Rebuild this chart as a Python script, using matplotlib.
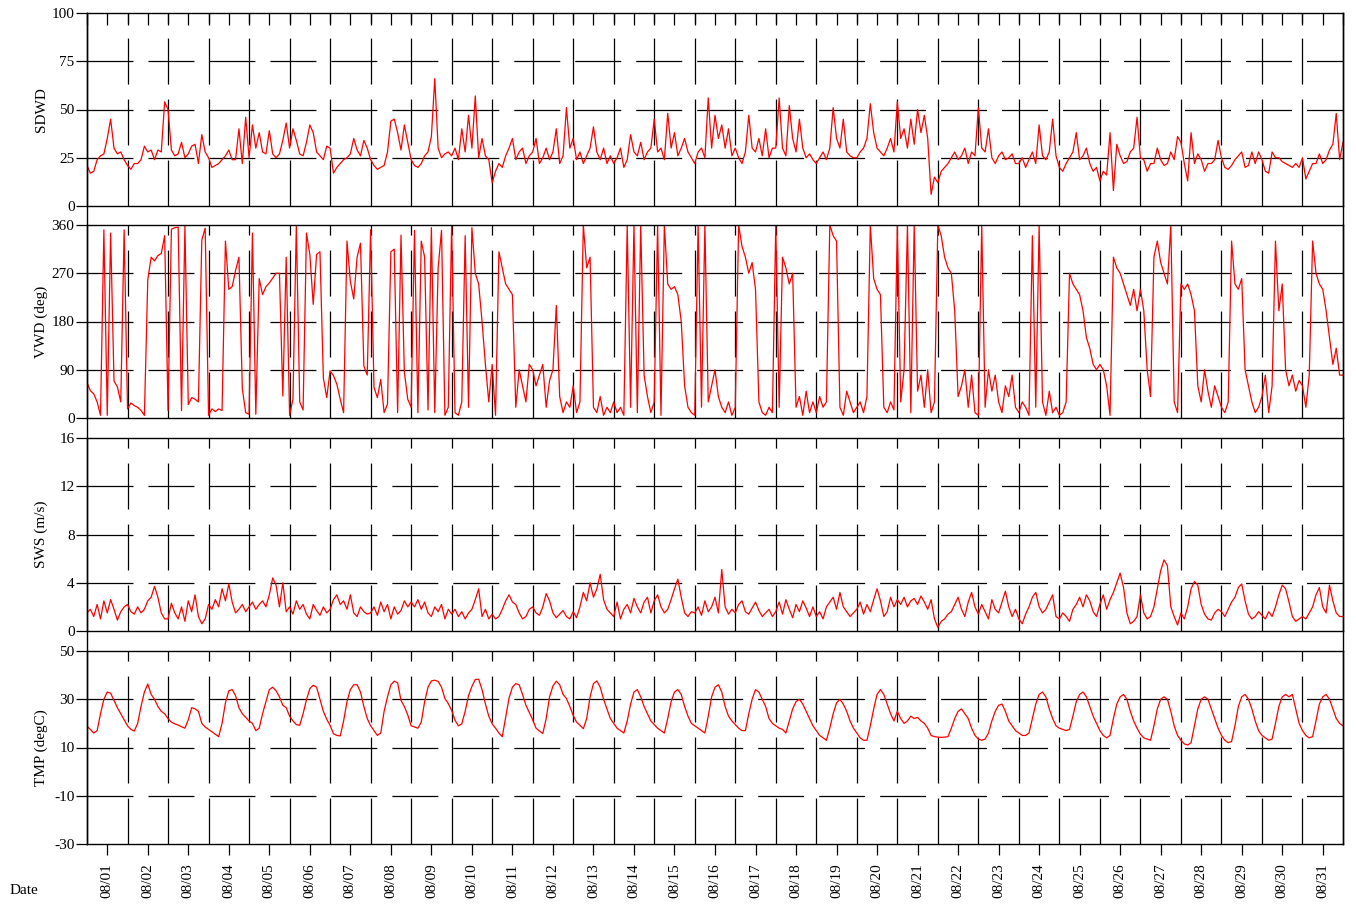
import numpy as np
import matplotlib.pyplot as plt
from matplotlib.lines import Line2D

plt.rcParams['font.family'] = ['Liberation Serif', 'DejaVu Serif']
plt.rcParams['axes.unicode_minus'] = False
plt.rcParams['lines.scale_dashes'] = False

# ---------------------------------------------------------------
# data: 2-hourly samples starting 08/01 00:00 (12 per day, last = 09/01 00:00)
# ---------------------------------------------------------------
sdwd = [
    21, 17, 18, 24, 26, 27, 35, 45, 30, 27, 28, 24,
    21, 19, 22, 22, 24, 31, 28, 29, 24, 29, 28, 54,
    50, 29, 26, 27, 33, 25, 27, 31, 32, 22, 37, 28,
    25, 20, 21, 22, 24, 26, 29, 24, 24, 40, 22, 46,
    25, 42, 30, 38, 28, 27, 39, 27, 25, 27, 34, 43,
    30, 40, 34, 27, 26, 33, 42, 38, 28, 26, 24, 31,
    30, 17, 20, 22, 24, 25, 27, 35, 29, 26, 34, 30,
    24, 21, 19, 20, 21, 28, 44, 45, 38, 29, 42, 33,
    24, 21, 20, 22, 26, 28, 36, 66, 30, 25, 27, 28,
    26, 30, 24, 40, 28, 47, 30, 57, 25, 35, 26, 24,
    12, 18, 22, 20, 26, 30, 35, 24, 28, 30, 22, 26,
    28, 35, 22, 25, 30, 24, 28, 40, 22, 26, 51, 30,
    35, 24, 28, 22, 26, 30, 41, 28, 24, 30, 22, 26,
    22, 25, 30, 20, 24, 37, 28, 26, 33, 24, 28, 30,
    45, 28, 30, 24, 48, 30, 38, 26, 30, 35, 28, 25,
    22, 28, 30, 25, 56, 30, 47, 35, 42, 30, 40, 26,
    30, 25, 22, 28, 47, 30, 28, 35, 26, 40, 25, 30,
    30, 56, 30, 26, 52, 35, 28, 45, 30, 25, 27, 24,
    22, 25, 28, 24, 30, 51, 35, 30, 45, 28, 26, 25,
    25, 28, 30, 35, 53, 38, 30, 28, 26, 30, 35, 28,
    54, 35, 40, 30, 45, 32, 50, 38, 47, 35, 6, 15,
    12, 18, 20, 22, 25, 28, 24, 26, 30, 22, 28, 26,
    51, 30, 28, 40, 25, 22, 26, 28, 24, 25, 27, 22,
    22, 25, 20, 24, 28, 22, 42, 26, 24, 28, 45, 26,
    20, 18, 22, 25, 28, 38, 24, 26, 30, 22, 18, 20,
    13, 18, 16, 38, 8, 32, 26, 22, 23, 28, 30, 46,
    25, 24, 18, 22, 22, 30, 24, 21, 22, 28, 24, 36,
    33, 22, 13, 38, 22, 27, 24, 18, 22, 22, 24, 34,
    25, 20, 19, 21, 24, 26, 28, 20, 21, 28, 22, 28,
    24, 18, 17, 28, 25, 25, 23, 22, 21, 20, 22, 20,
    25, 14, 18, 22, 22, 27, 22, 24, 29, 32, 48, 24,
    33,
]

vwd = [
    66, 51, 45, 30, 5, 351, 5, 345, 69, 58, 30, 351,
    17, 28, 23, 20, 14, 5, 258, 300, 293, 303, 307, 340,
    14, 352, 355, 356, 14, 358, 25, 38, 35, 30, 332, 354,
    5, 17, 12, 17, 14, 330, 240, 245, 275, 300, 55, 10,
    7, 345, 7, 260, 230, 245, 252, 261, 270, 270, 41, 300,
    5, 35, 360, 30, 15, 345, 305, 212, 305, 310, 75, 38,
    88, 79, 63, 35, 10, 330, 255, 222, 300, 326, 97, 80,
    351, 57, 38, 72, 10, 26, 310, 315, 10, 341, 85, 35,
    20, 350, 10, 330, 300, 15, 355, 10, 280, 350, 5, 20,
    360, 10, 5, 30, 340, 20, 355, 270, 250, 180, 100, 30,
    100, 5, 310, 280, 250, 240, 230, 20, 90, 60, 30, 100,
    90, 60, 80, 100, 20, 70, 90, 210, 40, 10, 30, 20,
    60, 10, 30, 360, 280, 300, 20, 10, 40, 5, 20, 10,
    30, 10, 20, 5, 360, 20, 360, 10, 360, 80, 40, 10,
    30, 360, 5, 360, 250, 240, 245, 230, 180, 60, 20, 10,
    5, 360, 20, 360, 30, 60, 90, 40, 20, 10, 30, 5,
    20, 360, 320, 300, 270, 290, 240, 30, 10, 5, 20, 10,
    360, 20, 300, 280, 250, 270, 20, 40, 5, 50, 10, 30,
    10, 40, 20, 30, 360, 340, 330, 20, 5, 50, 30, 10,
    20, 30, 10, 40, 360, 260, 240, 230, 20, 10, 30, 15,
    360, 30, 90, 360, 10, 360, 50, 80, 20, 90, 10, 30,
    360, 340, 300, 280, 270, 200, 40, 60, 90, 20, 80, 10,
    5, 360, 20, 90, 50, 80, 30, 10, 60, 40, 80, 20,
    10, 30, 20, 5, 340, 20, 360, 30, 5, 50, 10, 20,
    5, 10, 30, 270, 250, 240, 230, 200, 150, 130, 100, 90,
    100, 90, 60, 5, 300, 280, 270, 250, 230, 210, 240, 200,
    240, 200, 90, 40, 300, 330, 290, 270, 250, 360, 30, 10,
    250, 240, 250, 230, 200, 60, 30, 90, 50, 20, 60, 40,
    20, 10, 30, 330, 250, 240, 260, 90, 60, 30, 10, 20,
    40, 80, 10, 60, 330, 200, 250, 90, 60, 80, 50, 70,
    60, 20, 80, 330, 270, 250, 240, 200, 150, 100, 130, 80,
    80,
]

sws = [
    1.5, 1.8, 1.2, 2.2, 1.0, 2.5, 1.5, 2.6, 1.8, 0.9, 1.6, 2.0,
    2.2, 1.6, 1.4, 2.0, 1.5, 1.8, 2.5, 2.8, 3.7, 2.8, 1.5, 1.0,
    1.0, 2.3, 1.5, 1.0, 2.0, 0.8, 2.5, 1.6, 3.0, 1.2, 0.6, 1.0,
    2.2, 1.8, 2.6, 2.0, 3.5, 2.5, 3.9, 2.4, 1.5, 1.8, 2.2, 1.6,
    2.0, 2.4, 1.8, 2.2, 2.5, 2.0, 3.0, 4.4, 3.8, 2.0, 4.0, 1.6,
    2.0, 1.4, 2.5, 1.8, 2.2, 1.4, 1.0, 2.2, 1.7, 1.3, 2.0, 1.5,
    1.8, 2.6, 3.0, 2.2, 2.5, 1.8, 3.0, 1.5, 1.2, 2.0, 1.6, 1.4,
    1.5, 2.0, 1.3, 2.4, 1.6, 2.2, 1.0, 2.0, 1.4, 1.7, 2.5, 2.0,
    2.4, 2.0, 2.6, 1.8, 2.4, 1.5, 1.2, 2.0, 1.6, 2.2, 1.0, 1.8,
    1.4, 1.8, 1.2, 1.6, 1.0, 1.5, 1.8, 2.6, 3.5, 1.2, 1.8, 1.0,
    1.4, 1.0, 1.2, 1.8, 2.5, 3.0, 2.4, 2.2, 1.5, 1.0, 1.2, 1.8,
    2.0, 1.5, 1.3, 2.0, 3.1, 2.5, 1.5, 1.1, 1.4, 1.7, 1.2, 1.0,
    1.6, 1.1, 2.0, 3.2, 2.5, 4.0, 2.8, 3.5, 4.7, 2.6, 1.8, 1.5,
    1.2, 2.4, 1.0, 1.8, 2.2, 1.5, 2.7, 2.0, 1.5, 2.4, 2.8, 1.5,
    2.5, 3.0, 2.0, 1.5, 1.8, 2.6, 3.5, 4.3, 2.8, 1.5, 1.2, 1.6,
    1.5, 2.0, 1.3, 2.5, 1.6, 2.0, 2.8, 1.5, 5.1, 2.0, 1.4, 1.8,
    1.5, 2.2, 2.5, 1.6, 1.4, 1.9, 2.4, 1.7, 1.2, 1.5, 1.8, 1.2,
    1.6, 2.4, 1.4, 2.6, 1.8, 1.1, 2.2, 1.6, 2.5, 1.9, 1.2, 2.0,
    1.2, 1.6, 1.0, 2.0, 2.4, 2.8, 1.8, 3.2, 2.0, 1.6, 1.2, 1.5,
    1.8, 2.4, 1.4, 2.2, 1.6, 2.6, 3.5, 2.5, 1.2, 1.6, 2.8, 2.0,
    2.6, 2.2, 2.8, 2.0, 2.5, 2.7, 2.2, 2.9, 2.4, 1.8, 2.6, 1.0,
    0.3, 0.8, 1.0, 1.4, 1.6, 2.2, 2.8, 1.8, 1.2, 2.4, 3.2, 2.0,
    1.4, 2.2, 1.6, 1.0, 2.6, 1.8, 1.5, 2.4, 3.3, 2.0, 1.2, 1.8,
    1.0, 0.6, 1.4, 2.0, 2.8, 3.2, 2.0, 1.5, 1.8, 2.4, 3.0, 1.2,
    1.0, 1.5, 1.2, 0.8, 1.8, 2.2, 2.8, 2.0, 3.0, 2.5, 1.6, 1.2,
    2.2, 3.0, 1.8, 2.6, 3.2, 4.0, 4.8, 3.6, 1.5, 0.6, 0.8, 1.2,
    3.0, 1.5, 1.0, 1.2, 2.0, 3.5, 5.0, 5.9, 5.4, 2.0, 1.2, 0.5,
    1.5, 1.0, 2.0, 3.5, 4.1, 3.8, 2.2, 1.4, 1.0, 0.9, 1.5, 1.8,
    1.6, 1.2, 1.8, 2.4, 2.8, 3.6, 3.9, 2.5, 1.4, 1.0, 1.2, 1.6,
    1.3, 1.0, 1.6, 1.2, 2.0, 3.0, 3.8, 3.5, 2.4, 1.2, 0.8, 1.0,
    1.2, 1.0, 1.5, 2.0, 3.0, 3.6, 2.0, 1.5, 3.8, 2.5, 1.5, 1.2,
    1.2,
]

tmp = [
    18.8, 17.5, 16, 17, 24, 30, 33, 32.5, 29.5, 26.5, 24, 21.5,
    19, 17.5, 16.8, 20, 27, 33, 36.3, 32, 30, 27, 25, 24,
    22, 20.5, 19.8, 19.3, 18.6, 18, 21.5, 26.5, 26, 25, 20, 18.5,
    17.5, 16.5, 15.5, 14.5, 20, 28.5, 33.5, 34, 31.5, 26.5, 24, 22.5,
    21, 20, 17, 18, 24, 29, 34, 35, 33.5, 31, 27.5, 26.5,
    23, 21, 19.5, 19.2, 24, 29.8, 34.4, 35.8, 35, 30, 25, 21.7,
    19.2, 15.7, 15, 14.8, 21, 29, 34, 36, 36, 33, 27, 22,
    19, 17, 15, 16, 25, 31, 36, 37.5, 36.8, 29.5, 27, 23.5,
    19, 18.5, 18, 20.5, 29, 35, 37.6, 37.9, 37.4, 35, 30.3, 28.2,
    25.4, 21.3, 19, 19.8, 25, 31.5, 35.3, 38.2, 38.3, 34, 28, 23,
    19.8, 18, 16, 14.5, 22.5, 30.5, 35, 36.5, 36, 32, 27.5, 24.5,
    21.5, 18, 16.8, 15.8, 22, 31, 35.5, 37.5, 36, 32, 30.3, 27,
    23.3, 20.5, 19.2, 17.8, 22, 31, 36.5, 37.6, 35, 30, 26, 22,
    20, 18, 17, 16, 21, 28, 33, 34, 31, 27, 24, 21,
    19.5, 18, 17, 16, 22, 29, 33, 34, 32, 27, 23, 20,
    19, 18, 17, 16, 23, 31, 35, 36, 33, 27, 23, 21,
    19.5, 18, 17, 17, 24, 30, 34, 33, 30, 27, 22, 20,
    19, 18, 17.5, 16, 21, 26, 29, 30, 28, 25, 22, 19,
    17, 15, 14, 13, 18, 24, 28.5, 30, 28, 25, 21, 18,
    16, 14, 13, 13, 19, 26, 32, 34, 32, 28, 24, 21,
    25, 22, 20, 21, 23, 22, 22.5, 21, 20, 18, 15, 14.5,
    14.3, 14.2, 14.3, 14.5, 18, 22, 25, 26, 24, 22, 18, 15,
    13.5, 13, 13.5, 16, 21, 25, 27.5, 28, 25, 21, 19, 17,
    16, 15, 15, 16, 22, 28, 32, 33, 31, 26, 22, 19,
    18, 17.5, 17, 17.5, 23, 29, 32, 33, 31, 27, 23, 20,
    17, 15, 14, 15, 22, 28, 31, 32, 30, 25, 21, 18,
    15.5, 14, 13.5, 13, 19, 26, 30, 31, 30, 25, 19, 15,
    13, 11.5, 11, 12, 19, 26, 30, 31, 30, 26, 22, 18,
    15, 13, 12, 12.5, 19, 27, 31, 32, 30, 26, 21, 17,
    15, 14, 13, 13.5, 20, 27, 31, 32, 31, 32, 26, 20,
    17, 15, 14, 14.5, 21, 28, 31, 32, 30, 26, 22, 20,
    19,
]

ylabels = ['SDWD', 'VWD (deg)', 'SWS (m/s)', 'TMP (degC)']
yticks = [[0, 25, 50, 75, 100],
          [0, 90, 180, 270, 360],
          [0, 4, 8, 12, 16],
          [-30, -10, 10, 30, 50]]
day_labels = ['08/%02d' % d for d in range(1, 32)]

# ---------------------------------------------------------------
# layout (pixels of a 1356x907 canvas)
# ---------------------------------------------------------------
W, H = 1356, 907
x_left, x_right = 87, 1343
panel_tops = [13, 225, 438, 651]
panel_h = 193
n_hours = 31 * 24
hours = np.arange(len(sdwd)) * 2

fig = plt.figure(figsize=(W / 100, H / 100), dpi=100)
dash = (33.1, 10.8)

axes = []
for i, (series, label, ticks) in enumerate(zip([sdwd, vwd, sws, tmp], ylabels, yticks)):
    top = panel_tops[i]
    ax = fig.add_axes([x_left / W, 1 - (top + panel_h) / H,
                       (x_right - x_left) / W, panel_h / H])
    ax.plot(hours, series, color='red', lw=0.9)
    ax.set_xlim(0, n_hours)
    ax.set_ylim(ticks[0], ticks[-1])
    ax.set_yticks(ticks)
    ax.tick_params(axis='y', direction='out', length=8, width=0.9, pad=1, labelsize=11)

    for y in ticks[1:-1]:
        ax.axhline(y, color='black', lw=0.9, dashes=dash, zorder=1)
    for d in range(1, 31):
        ax.axvline(d * 24, color='black', lw=0.9, dashes=dash, zorder=1)

    for s in ax.spines.values():
        s.set_linewidth(1.0)

    ax.set_ylabel(label, fontsize=11)
    ax.yaxis.set_label_coords(-0.031, 0.5)

    noon = np.arange(31) * 24 + 12
    ax.set_xticks(noon)
    if i == 0:
        ax.set_xticks(np.arange(0, n_hours + 1, 24), minor=True)
        ax.tick_params(axis='x', which='both', bottom=False, top=True,
                       direction='in', length=8.5, width=0.9, labelbottom=False)
    elif i == 3:
        ax.set_xticklabels(day_labels, rotation=90, fontsize=11)
        ax.tick_params(axis='x', direction='out', length=8, width=0.9, pad=6)
    else:
        ax.tick_params(axis='x', bottom=False, labelbottom=False)
    axes.append(ax)

# outer frame runs through the gaps between panels
for xp in (x_left, x_right):
    fig.add_artist(Line2D([xp / W, xp / W], [1 - 13 / H, 1 - (651 + panel_h) / H],
                          transform=fig.transFigure, color='black', lw=1.0))

fig.text(10 / W, 1 - 890 / H, 'Date', fontsize=11, va='center', ha='left')

fig.savefig('out.png', dpi=100)
